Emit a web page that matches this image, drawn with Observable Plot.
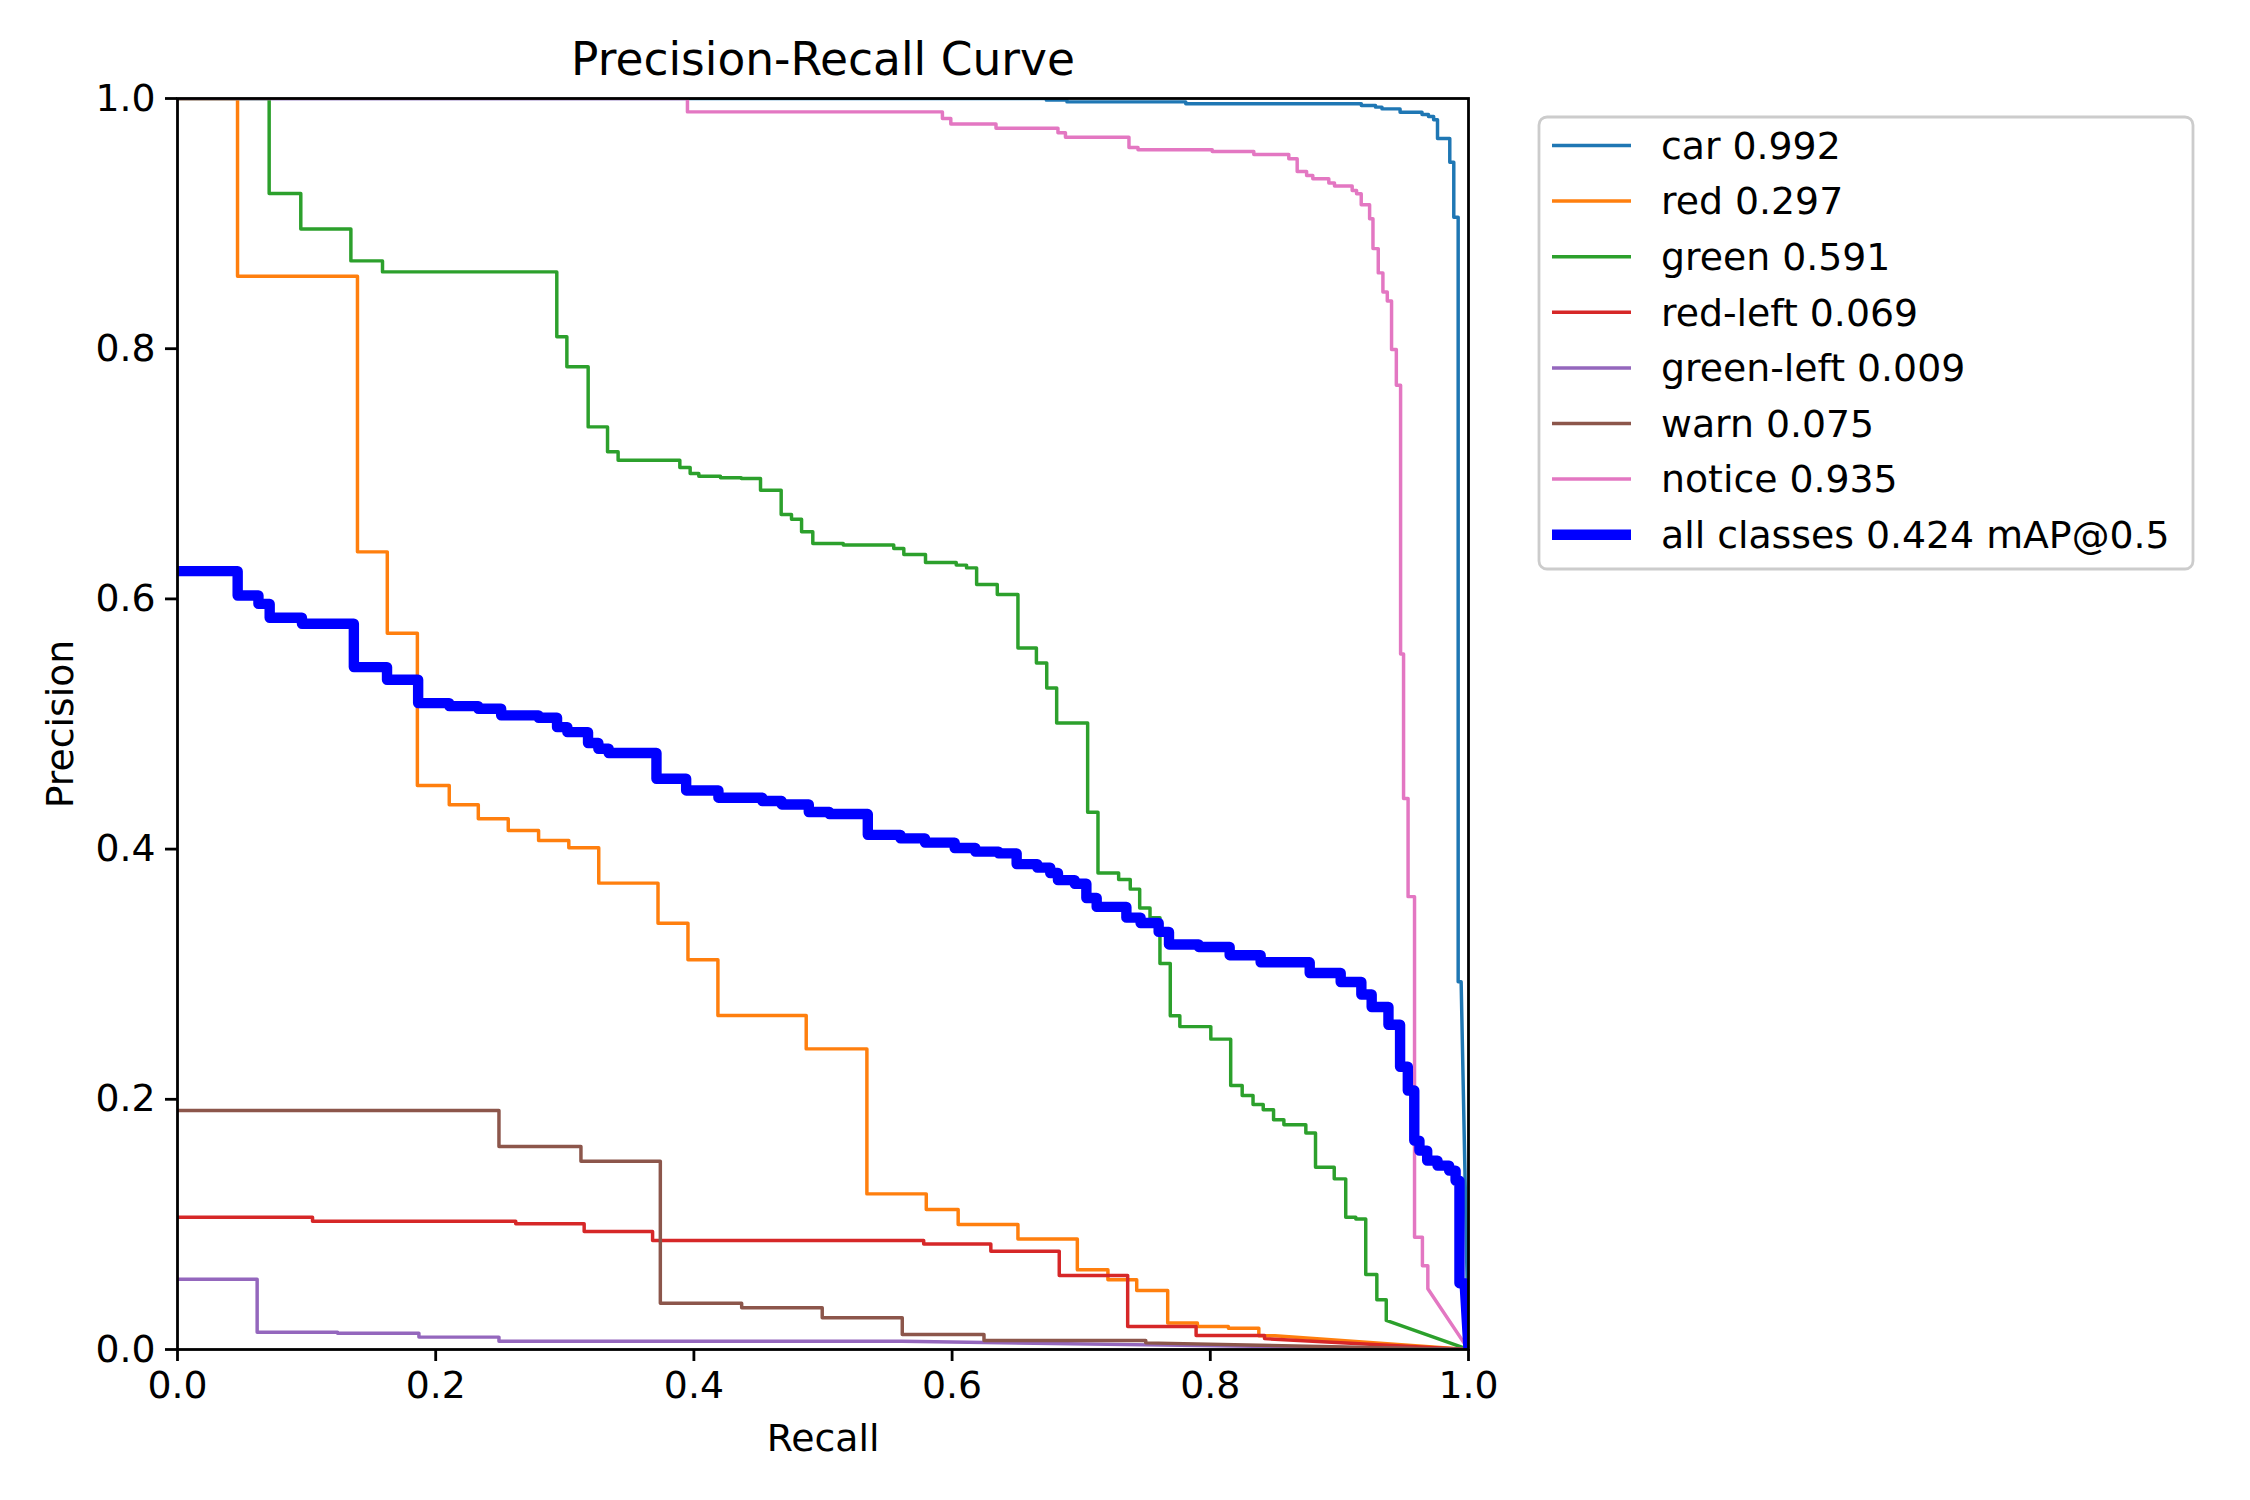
<!DOCTYPE html>
<html>
<head>
<meta charset="utf-8">
<script src="https://cdn.jsdelivr.net/npm/d3@7"></script>
<script src="https://cdn.jsdelivr.net/npm/@observablehq/plot@0.6"></script>
<style>
  html, body { margin: 0; padding: 0; background: #fff; overflow: hidden; }
  svg { display: block; }
</style>
</head>
<body>
<div id="chart"></div>
<script>
// ---------- data ----------
const classNames = ["car", "red", "green", "red-left", "green-left", "warn", "notice"];
const classAP = [0.992, 0.297, 0.591, 0.069, 0.009, 0.075, 0.935];
const allClassesLabel = "all classes 0.424 mAP@0.5";
const xTicks = [0, 0.2, 0.4, 0.6, 0.8, 1.0];
const yTicks = [0, 0.2, 0.4, 0.6, 0.8, 1.0];

// each entry: [recall where the level ends, precision level held up to it]
const carSteps = [[0.673, 1.0], [0.689, 0.9987], [0.781, 0.9973], [0.917, 0.9958], [0.928, 0.9944],
  [0.933, 0.9931], [0.947, 0.9917], [0.964, 0.989], [0.969, 0.9872], [0.973, 0.9856], [0.976, 0.983],
  [0.9855, 0.968], [0.9886, 0.949], [0.992, 0.905], [0.9943, 0.294]];
const redSteps = [[0.0465, 1.0], [0.1394, 0.858], [0.1625, 0.6376], [0.1858, 0.5726], [0.2105, 0.4508],
  [0.233, 0.4354], [0.2562, 0.4242], [0.2797, 0.4149], [0.3031, 0.4069], [0.3263, 0.401], [0.3722, 0.3728],
  [0.3954, 0.3408], [0.4186, 0.3115], [0.487, 0.267], [0.534, 0.2403], [0.580, 0.1244], [0.6047, 0.1119],
  [0.651, 0.0999], [0.697, 0.0884], [0.7207, 0.0637], [0.743, 0.0557], [0.767, 0.0472], [0.79, 0.0211],
  [0.814, 0.0184], [0.8376, 0.017], [0.85, 0.011]];
const greenSteps = [[0.0710, 1.0], [0.0955, 0.924], [0.1343, 0.8956], [0.1588, 0.8702], [0.2938, 0.8614],
  [0.3016, 0.8095], [0.3181, 0.7855], [0.3331, 0.7375], [0.3413, 0.7176], [0.3891, 0.7109], [0.3971, 0.705],
  [0.4038, 0.7002], [0.4206, 0.6981], [0.4367, 0.6968], [0.4516, 0.6962], [0.4676, 0.6869], [0.4756, 0.6675],
  [0.4834, 0.6637], [0.4921, 0.6536], [0.5157, 0.6443], [0.5548, 0.643], [0.5626, 0.6403], [0.5794, 0.6355],
  [0.6032, 0.6291], [0.6112, 0.627], [0.619, 0.6248], [0.635, 0.6115], [0.651, 0.6035], [0.6653, 0.5608],
  [0.6733, 0.5488], [0.681, 0.5288], [0.705, 0.5008], [0.713, 0.4294], [0.729, 0.3809], [0.738, 0.3757],
  [0.7453, 0.368], [0.7533, 0.3529], [0.761, 0.3452], [0.769, 0.3086], [0.7764, 0.2667], [0.8004, 0.2581],
  [0.8158, 0.2481], [0.8247, 0.211], [0.8331, 0.203], [0.841, 0.1958], [0.849, 0.1916], [0.857, 0.1836],
  [0.874, 0.1796], [0.8815, 0.173], [0.896, 0.1457], [0.9049, 0.1364], [0.9127, 0.1057], [0.9204, 0.1044],
  [0.929, 0.0599], [0.9363, 0.0397], [0.9363, 0.0232]];
const redLeftSteps = [[0.1046, 0.1058], [0.262, 0.1026], [0.315, 0.1005], [0.368, 0.0943], [0.578, 0.0871],
  [0.630, 0.0844], [0.683, 0.0786], [0.736, 0.0591], [0.789, 0.0184], [0.842, 0.0112], [0.842, 0.0087]];
const greenLeftSteps = [[0.0617, 0.0562], [0.124, 0.0138], [0.187, 0.013], [0.249, 0.0099], [0.561, 0.0066]];
const warnSteps = [[0.249, 0.191], [0.3125, 0.1623], [0.374, 0.1505], [0.437, 0.037], [0.4994, 0.0333],
  [0.5614, 0.0253], [0.6247, 0.012], [0.75, 0.0072], [0.75, 0.0053]];
const noticeSteps = [[0.395, 1.0], [0.5925, 0.9893], [0.599, 0.984], [0.634, 0.9797], [0.682, 0.9763],
  [0.6878, 0.9726], [0.737, 0.9691], [0.744, 0.9608], [0.8015, 0.959], [0.8337, 0.9576], [0.8608, 0.9552],
  [0.8673, 0.9518], [0.8746, 0.9417], [0.8794, 0.9385], [0.8918, 0.9359], [0.8962, 0.9324], [0.9099, 0.93],
  [0.9133, 0.9265], [0.9169, 0.9239], [0.9234, 0.9151], [0.926, 0.9039], [0.9301, 0.88], [0.9337, 0.8606],
  [0.9371, 0.8454], [0.9404, 0.8382], [0.9441, 0.7993], [0.9474, 0.7708], [0.9497, 0.556], [0.9532, 0.4404],
  [0.9582, 0.362], [0.9643, 0.0897], [0.9685, 0.067], [0.9685, 0.0485]];
const allSteps = [[0.0466, 0.6222], [0.0627, 0.6027], [0.0714, 0.596], [0.0964, 0.5849], [0.1366, 0.5801],
  [0.1623, 0.5455], [0.1864, 0.5354], [0.2105, 0.5167], [0.233, 0.5143], [0.2507, 0.5122], [0.2797, 0.5069],
  [0.294, 0.505], [0.302, 0.4975], [0.318, 0.4935], [0.326, 0.4848], [0.334, 0.4802], [0.371, 0.4768],
  [0.394, 0.4562], [0.419, 0.4469], [0.453, 0.4411], [0.468, 0.4384], [0.489, 0.4357], [0.505, 0.4296],
  [0.5347, 0.428], [0.560, 0.4114], [0.579, 0.4086], [0.602, 0.4052], [0.618, 0.4009], [0.636, 0.398],
  [0.650, 0.3966], [0.666, 0.388], [0.676, 0.3852], [0.682, 0.3809], [0.695, 0.3752], [0.704, 0.3723],
  [0.712, 0.3609], [0.735, 0.3538], [0.746, 0.3452], [0.760, 0.3409], [0.768, 0.3338], [0.791, 0.3238],
  [0.815, 0.3218], [0.839, 0.3152], [0.877, 0.3095], [0.901, 0.301], [0.917, 0.2938], [0.925, 0.2838],
  [0.938, 0.2738], [0.947, 0.2596], [0.953, 0.226], [0.958, 0.207], [0.962, 0.167], [0.968, 0.159],
  [0.976, 0.151], [0.985, 0.147], [0.990, 0.143], [0.993, 0.135], [0.997, 0.053]];

const classSteps = [carSteps, redSteps, greenSteps, redLeftSteps, greenLeftSteps, warnSteps, noticeSteps];

// ---------- build vertex tables (step levels, then the final segment to recall 1, precision 0) ----------
function vertices(steps, name) {
  const rows = [];
  let prev = 0;
  for (const [r, p] of steps) {
    rows.push({cls: name, recall: prev, precision: p});
    rows.push({cls: name, recall: r, precision: p});
    prev = r;
  }
  rows.push({cls: name, recall: 1, precision: 0});
  return rows;
}
const classRows = classSteps.flatMap((s, i) => vertices(s, classNames[i]));
const allRows = vertices(allSteps, "all");

const palette = d3.schemeCategory10.slice(0, classNames.length);
const FS = 37.8;

const chart = Plot.plot({
  width: 2250,
  height: 1500,
  marginLeft: 177,
  marginRight: 782,
  marginTop: 98,
  marginBottom: 151,
  style: {fontFamily: "'DejaVu Sans', sans-serif", fontSize: FS + "px", background: "white", color: "black"},
  x: {domain: [0, 1]},
  y: {domain: [0, 1]},
  color: {domain: classNames, range: palette},
  marks: [
    Plot.line(classRows, {x: "recall", y: "precision", z: "cls", stroke: "cls", strokeWidth: 3.47,
      strokeLinejoin: "round", strokeLinecap: "square", clip: "frame"}),
    Plot.line(allRows, {x: "recall", y: "precision", stroke: "blue", strokeWidth: 10.4,
      strokeLinejoin: "round", strokeLinecap: "square", clip: "frame"}),
    Plot.frame({stroke: "black", strokeWidth: 2.8}),
    Plot.axisX({ticks: xTicks, tickFormat: d3.format(".1f"), tickSize: 12, tickPadding: 10,
      strokeWidth: 2.8, fontSize: FS, label: null}),
    Plot.axisY({ticks: yTicks, tickFormat: d3.format(".1f"), tickSize: 12, tickPadding: 10,
      strokeWidth: 2.8, fontSize: FS, label: null}),
    Plot.text(["Recall"], {text: d => d, frameAnchor: "bottom", dy: 89, lineAnchor: "middle",
      textAnchor: "middle", fontSize: FS}),
    Plot.text(["Precision"], {text: d => d, frameAnchor: "left", dx: -117, rotate: -90, lineAnchor: "middle",
      textAnchor: "middle", fontSize: FS}),
    Plot.text(["Precision-Recall Curve"], {text: d => d, frameAnchor: "top", dy: -38, lineAnchor: "middle",
      textAnchor: "middle", fontSize: 45.5})
  ]
});

document.getElementById("chart").appendChild(chart);

// ---------- legend (outside the axes, upper right) ----------
const legendItems = classNames.map((n, i) => ({label: `${n} ${classAP[i].toFixed(3)}`, color: palette[i], w: 3.47}))
  .concat([{label: allClassesLabel, color: "blue", w: 10.4}]);
const svg = d3.select(chart);
const lg = svg.append("g")
  .attr("font-family", "'DejaVu Sans', sans-serif")
  .attr("font-size", FS)
  .attr("text-anchor", "start");
lg.append("rect")
  .attr("x", 1539).attr("y", 117).attr("width", 654).attr("height", 452).attr("rx", 8)
  .attr("fill", "white").attr("fill-opacity", 0.8)
  .attr("stroke", "#cccccc").attr("stroke-width", 2.8);
legendItems.forEach((d, i) => {
  const y = 145.5 + i * 55.6;
  lg.append("line").attr("x1", 1552).attr("x2", 1631).attr("y1", y).attr("y2", y)
    .attr("stroke", d.color).attr("stroke-width", d.w).attr("stroke-linecap", "butt");
  lg.append("text").attr("x", 1661).attr("y", y).attr("dy", "0.35em").attr("fill", "black")
    .attr("text-anchor", "start").text(d.label);
});
</script>
</body>
</html>
